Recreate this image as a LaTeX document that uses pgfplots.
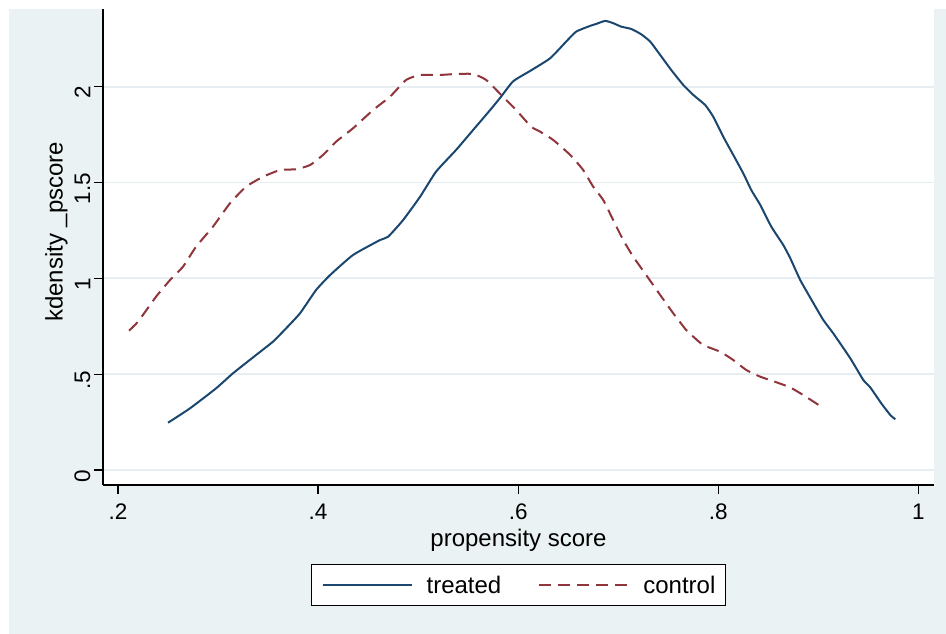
\documentclass[border=0pt]{standalone}
\usepackage{fontspec}
\setmainfont{Liberation Sans}
\usepackage{pgfplots}
\pgfplotsset{compat=1.18}

\definecolor{regionbg}{HTML}{EAF2F3}
\definecolor{gridc}{HTML}{E6EEF1}
\definecolor{stnavy}{HTML}{1A476F}
\definecolor{stmaroon}{HTML}{90353B}

\begin{document}
\begin{tikzpicture}
% graph region
\fill[white] (0pt,0pt) rectangle (946pt,634pt);
\fill[regionbg] (9pt,0pt) rectangle (946pt,625pt);
\begin{axis}[
  at={(103pt,149pt)}, anchor=south west,
  width=831pt, height=476pt, scale only axis,
  xmin=0.185, xmax=1.0157,
  ymin=-0.078, ymax=2.405,
  axis background/.style={fill=white},
  axis x line*=bottom, axis y line*=left,
  axis line style={black, line width=1.2pt},
  tick style={black, line width=1.2pt},
  tick align=outside, major tick length=9pt,
  xtick={0.2,0.4,0.6,0.8,1}, xticklabels={.2,.4,.6,.8,1},
  ytick={0,0.5,1,1.5,2}, yticklabels={0,.5,1,1.5,2},
  tick label style={font=\fontsize{22.5}{27}\selectfont},
  xticklabel style={yshift=-6pt},
  yticklabel style={rotate=90, anchor=south, xshift=-6pt},
  ymajorgrids, grid style={gridc, line width=1.8pt},
  label style={font=\fontsize{24}{29}\selectfont},
  xlabel={propensity score},
  xlabel style={at={(axis description cs:0.5,-0.130)}, anchor=base},
  ylabel={kdensity \_pscore},
  ylabel style={at={(axis description cs:-0.0485,0.532)}, anchor=base},
  legend columns=2,
  legend style={at={(axis description cs:0.5,-0.166)}, anchor=north,
    draw=black, line width=1.2pt, fill=white,
    font=\fontsize{24}{29}\selectfont,
    inner xsep=10pt, inner ysep=12pt,
    nodes={inner sep=0pt, text height=17pt, text depth=0pt},
    /tikz/every odd column/.append style={column sep=14pt},
    /tikz/every even column/.append style={column sep=37pt}},
  legend image code/.code={\draw[#1] (0pt,0pt) -- (89pt,0pt);},
]
\addplot[stnavy, line width=2pt, line join=round, smooth, tension=0.3] table {
0.250 0.247
0.272 0.322
0.298 0.426
0.315 0.505
0.338 0.600
0.355 0.670
0.368 0.739
0.382 0.818
0.398 0.939
0.412 1.017
0.435 1.122
0.462 1.200
0.470 1.217
0.485 1.304
0.502 1.426
0.518 1.557
0.538 1.670
0.555 1.774
0.572 1.878
0.583 1.948
0.595 2.028
0.612 2.082
0.632 2.148
0.648 2.235
0.658 2.287
0.672 2.317
0.678 2.327
0.687 2.343
0.695 2.331
0.703 2.313
0.713 2.301
0.723 2.273
0.732 2.235
0.742 2.165
0.753 2.087
0.765 2.009
0.775 1.957
0.787 1.904
0.795 1.843
0.805 1.739
0.815 1.644
0.825 1.548
0.833 1.461
0.842 1.383
0.853 1.270
0.865 1.174
0.872 1.105
0.882 0.991
0.893 0.890
0.905 0.783
0.915 0.713
0.932 0.583
0.945 0.470
0.952 0.431
0.963 0.348
0.972 0.287
0.977 0.265
};
\addlegendentry{treated}
\addplot[stmaroon, line width=2pt, dash pattern=on 12pt off 7pt, line join=round, smooth, tension=0.3] table {
0.211 0.727
0.220 0.774
0.238 0.904
0.252 0.991
0.265 1.061
0.278 1.165
0.295 1.270
0.312 1.392
0.328 1.478
0.345 1.530
0.362 1.565
0.378 1.569
0.392 1.591
0.405 1.644
0.418 1.713
0.435 1.783
0.455 1.878
0.472 1.948
0.488 2.035
0.502 2.061
0.522 2.061
0.538 2.066
0.555 2.066
0.568 2.035
0.583 1.957
0.598 1.878
0.613 1.791
0.622 1.765
0.635 1.722
0.652 1.644
0.665 1.565
0.675 1.478
0.685 1.409
0.695 1.304
0.705 1.200
0.715 1.113
0.728 1.017
0.742 0.913
0.755 0.818
0.768 0.730
0.775 0.696
0.785 0.652
0.802 0.617
0.815 0.574
0.828 0.522
0.842 0.487
0.858 0.458
0.872 0.431
0.885 0.391
0.902 0.334
};
\addlegendentry{control}
\end{axis}
\end{tikzpicture}
\end{document}
